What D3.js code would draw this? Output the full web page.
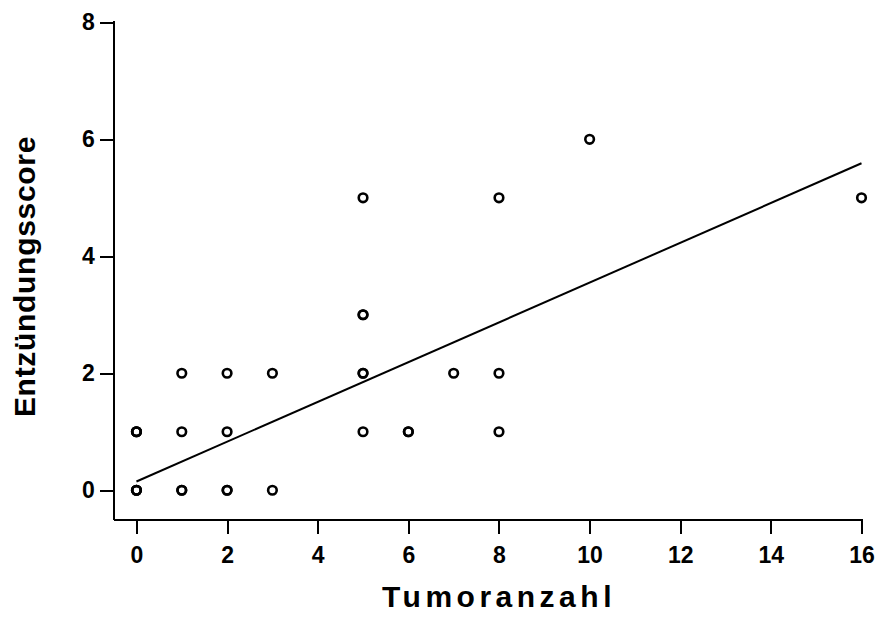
<!DOCTYPE html>
<html><head><meta charset="utf-8">
<script src="https://cdn.jsdelivr.net/npm/d3@7/dist/d3.min.js"></script>
<style>body{margin:0;background:#fff}</style>
</head><body>
<svg id="c" width="879" height="617"></svg>
<script>
// Data (duplicates repeated)
const tumorCount = [0,0,0,0,0,0, 1,1,1,1, 2,2,2,2, 3,3, 5,5,5,5,5,5, 6,6, 7, 8,8,8, 10, 16];
const score      = [0,0,0,1,1,1, 0,0,1,2, 0,0,1,2, 0,2, 1,2,2,3,3,5, 1,1, 2, 1,2,5, 6, 5];
const xTicks = [0,2,4,6,8,10,12,14,16];
const yTicks = [0,2,4,6,8];
const fitIntercept = 0.15;
const fitSlope = 0.34;
const fitRange = [0,16];

const svg = d3.select("#c");
const x = d3.scaleLinear().domain([-0.5,16]).range([113.8,861.5]);
const y = d3.scaleLinear().domain([-0.5,8]).range([519.5,22.3]);
const font = "'Liberation Sans', Arial, sans-serif";

const xa = svg.append("g").attr("transform","translate(0,519.5)")
  .call(d3.axisBottom(x).tickValues(xTicks).tickSizeOuter(0).tickSize(14).tickPadding(13).tickFormat(d3.format("d")));
const ya = svg.append("g").attr("transform","translate(113.8,0)")
  .call(d3.axisLeft(y).tickValues(yTicks).tickSizeOuter(0).tickSize(14).tickPadding(5).tickFormat(d3.format("d")));
[xa,ya].forEach(a=>{
  a.selectAll("path,line").attr("stroke","#000").attr("stroke-width",2).attr("shape-rendering","crispEdges");
  a.selectAll("text").attr("fill","#000").style("font-family",font).style("font-weight","bold").style("font-size","23px");
});
xa.select("path.domain").attr("d",`M${x(-0.5)},0H${x(16)+1}`);
ya.select("path.domain").attr("d",`M0,${y(-0.5)}V${y(8)-1}`);

// regression line
svg.append("line")
  .attr("x1",x(fitRange[0])).attr("y1",y(fitIntercept+fitSlope*fitRange[0]))
  .attr("x2",x(fitRange[1])).attr("y2",y(fitIntercept+fitSlope*fitRange[1]))
  .attr("stroke","#000").attr("stroke-width",2);

// points
svg.append("g").selectAll("circle").data(tumorCount.map((t,i)=>[t,score[i]])).join("circle")
  .attr("cx",d=>x(d[0])).attr("cy",d=>y(d[1])).attr("r",4.3)
  .attr("fill","none").attr("stroke","#000").attr("stroke-width",2.6);

// axis titles
svg.append("text").attr("x",499).attr("y",607).attr("text-anchor","middle")
  .style("font-family",font).style("font-weight","bold").style("font-size","30px").style("letter-spacing","4.5px")
  .text("Tumoranzahl");
svg.append("text").attr("transform","translate(35,276.5) rotate(-90)").attr("text-anchor","middle")
  .style("font-family",font).style("font-weight","bold").style("font-size","30px").style("letter-spacing","0.7px")
  .text("Entzündungsscore");
</script>
</body></html>
